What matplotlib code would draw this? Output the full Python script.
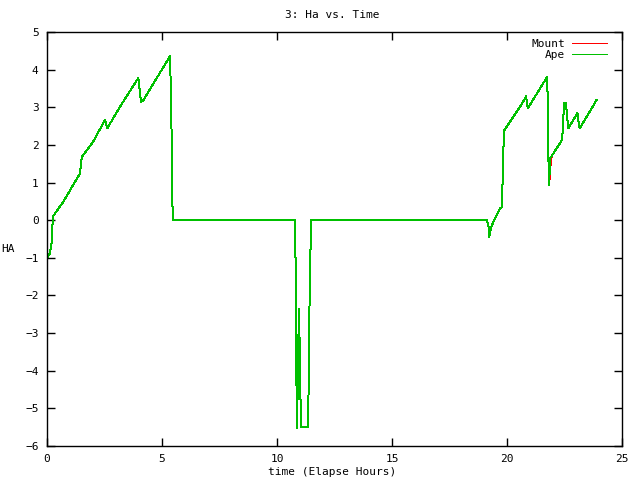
import matplotlib
matplotlib.use('Agg')
import matplotlib.pyplot as plt

# Ha vs elapsed time
time_h = [0.0, 0.0, 0.03, 0.13, 0.20, 0.23, 0.27, 0.71, 1.43, 1.51, 2.0, 2.52, 2.62,
          3.17, 3.97, 4.09, 4.19, 5.35, 5.39, 5.45, 5.46,
          10.79, 10.81, 10.84, 10.88, 10.89, 10.92, 10.93, 10.96, 10.98, 11.01, 11.02,
          11.04, 11.36, 11.37, 11.40, 11.45, 11.49,
          19.12, 19.19, 19.23, 19.26, 19.30, 19.40, 19.70, 19.77, 19.80, 19.84, 19.88,
          20.03, 20.64, 20.83, 20.90, 21.75, 21.77, 21.80, 21.84, 21.86, 21.94,
          22.38, 22.42, 22.48, 22.57, 22.60, 22.67, 22.88, 23.06, 23.14, 23.17,
          23.68, 23.90]
ape_ha = [0.0, -0.97, -0.97, -0.88, -0.6, -0.18, 0.11, 0.49, 1.24, 1.68, 2.08, 2.66, 2.44,
          3.01, 3.78, 3.14, 3.19, 4.36, 3.28, 1.06, 0.0,
          0.0, -1.37, -4.12, -5.53, -4.0, -4.74, -3.17, -2.37, -3.17, -3.17, -4.69,
          -5.49, -5.49, -4.6, -2.76, -0.93, 0.0,
          0.0, -0.13, -0.44, -0.35, -0.22, -0.05, 0.31, 0.34, 0.84, 1.86, 2.39,
          2.52, 3.08, 3.29, 2.97, 3.81, 3.1, 1.64, 0.93, 1.64, 1.7,
          2.12, 2.35, 3.1, 3.12, 2.79, 2.44, 2.66, 2.85, 2.48, 2.45,
          2.97, 3.2]
mount_ha = list(ape_ha)
mount_ha[time_h.index(21.86)] = 1.28

plt.rcParams['font.family'] = 'DejaVu Sans Mono'
plt.rcParams['font.size'] = 8

fig = plt.figure(figsize=(6.4, 4.8), dpi=100)
ax = fig.add_axes([47 / 640, 1 - 446 / 480, 575 / 640, 414 / 480])

ax.plot(time_h, mount_ha, color='#ff0000', lw=0.72, label='Mount', antialiased=False)
ax.plot(time_h, ape_ha, color='#00c000', lw=0.72, label='Ape', antialiased=False)

ax.set_xlim(0, 25)
ax.set_ylim(-6, 5)
ax.set_xticks(range(0, 26, 5))
ax.set_yticks(range(-6, 6))
ax.tick_params(direction='in', length=6, width=1, top=True, right=True,
               labelsize=8, pad=6, color='black')
for s in ax.spines.values():
    s.set_linewidth(1)

leg = ax.legend(loc='upper right', bbox_to_anchor=(0.981, 0.993), borderaxespad=0,
                frameon=False, markerfirst=False,
                handlelength=3.1, handletextpad=0.6,
                labelspacing=0.05, fontsize=8)
for t in leg.get_texts():
    t.set_ha('right')
for h in leg.get_lines():
    h.set_antialiased(False)

fig.text(332 / 640, 1 - 15 / 480, '3: Ha vs. Time', ha='center', va='center', fontsize=8)
fig.text(332 / 640, 1 - 472 / 480, 'time (Elapse Hours)', ha='center', va='center', fontsize=8)
fig.text(8 / 640, 1 - 249 / 480, 'HA', ha='center', va='center', fontsize=8)

fig.savefig('out.png', dpi=100)
